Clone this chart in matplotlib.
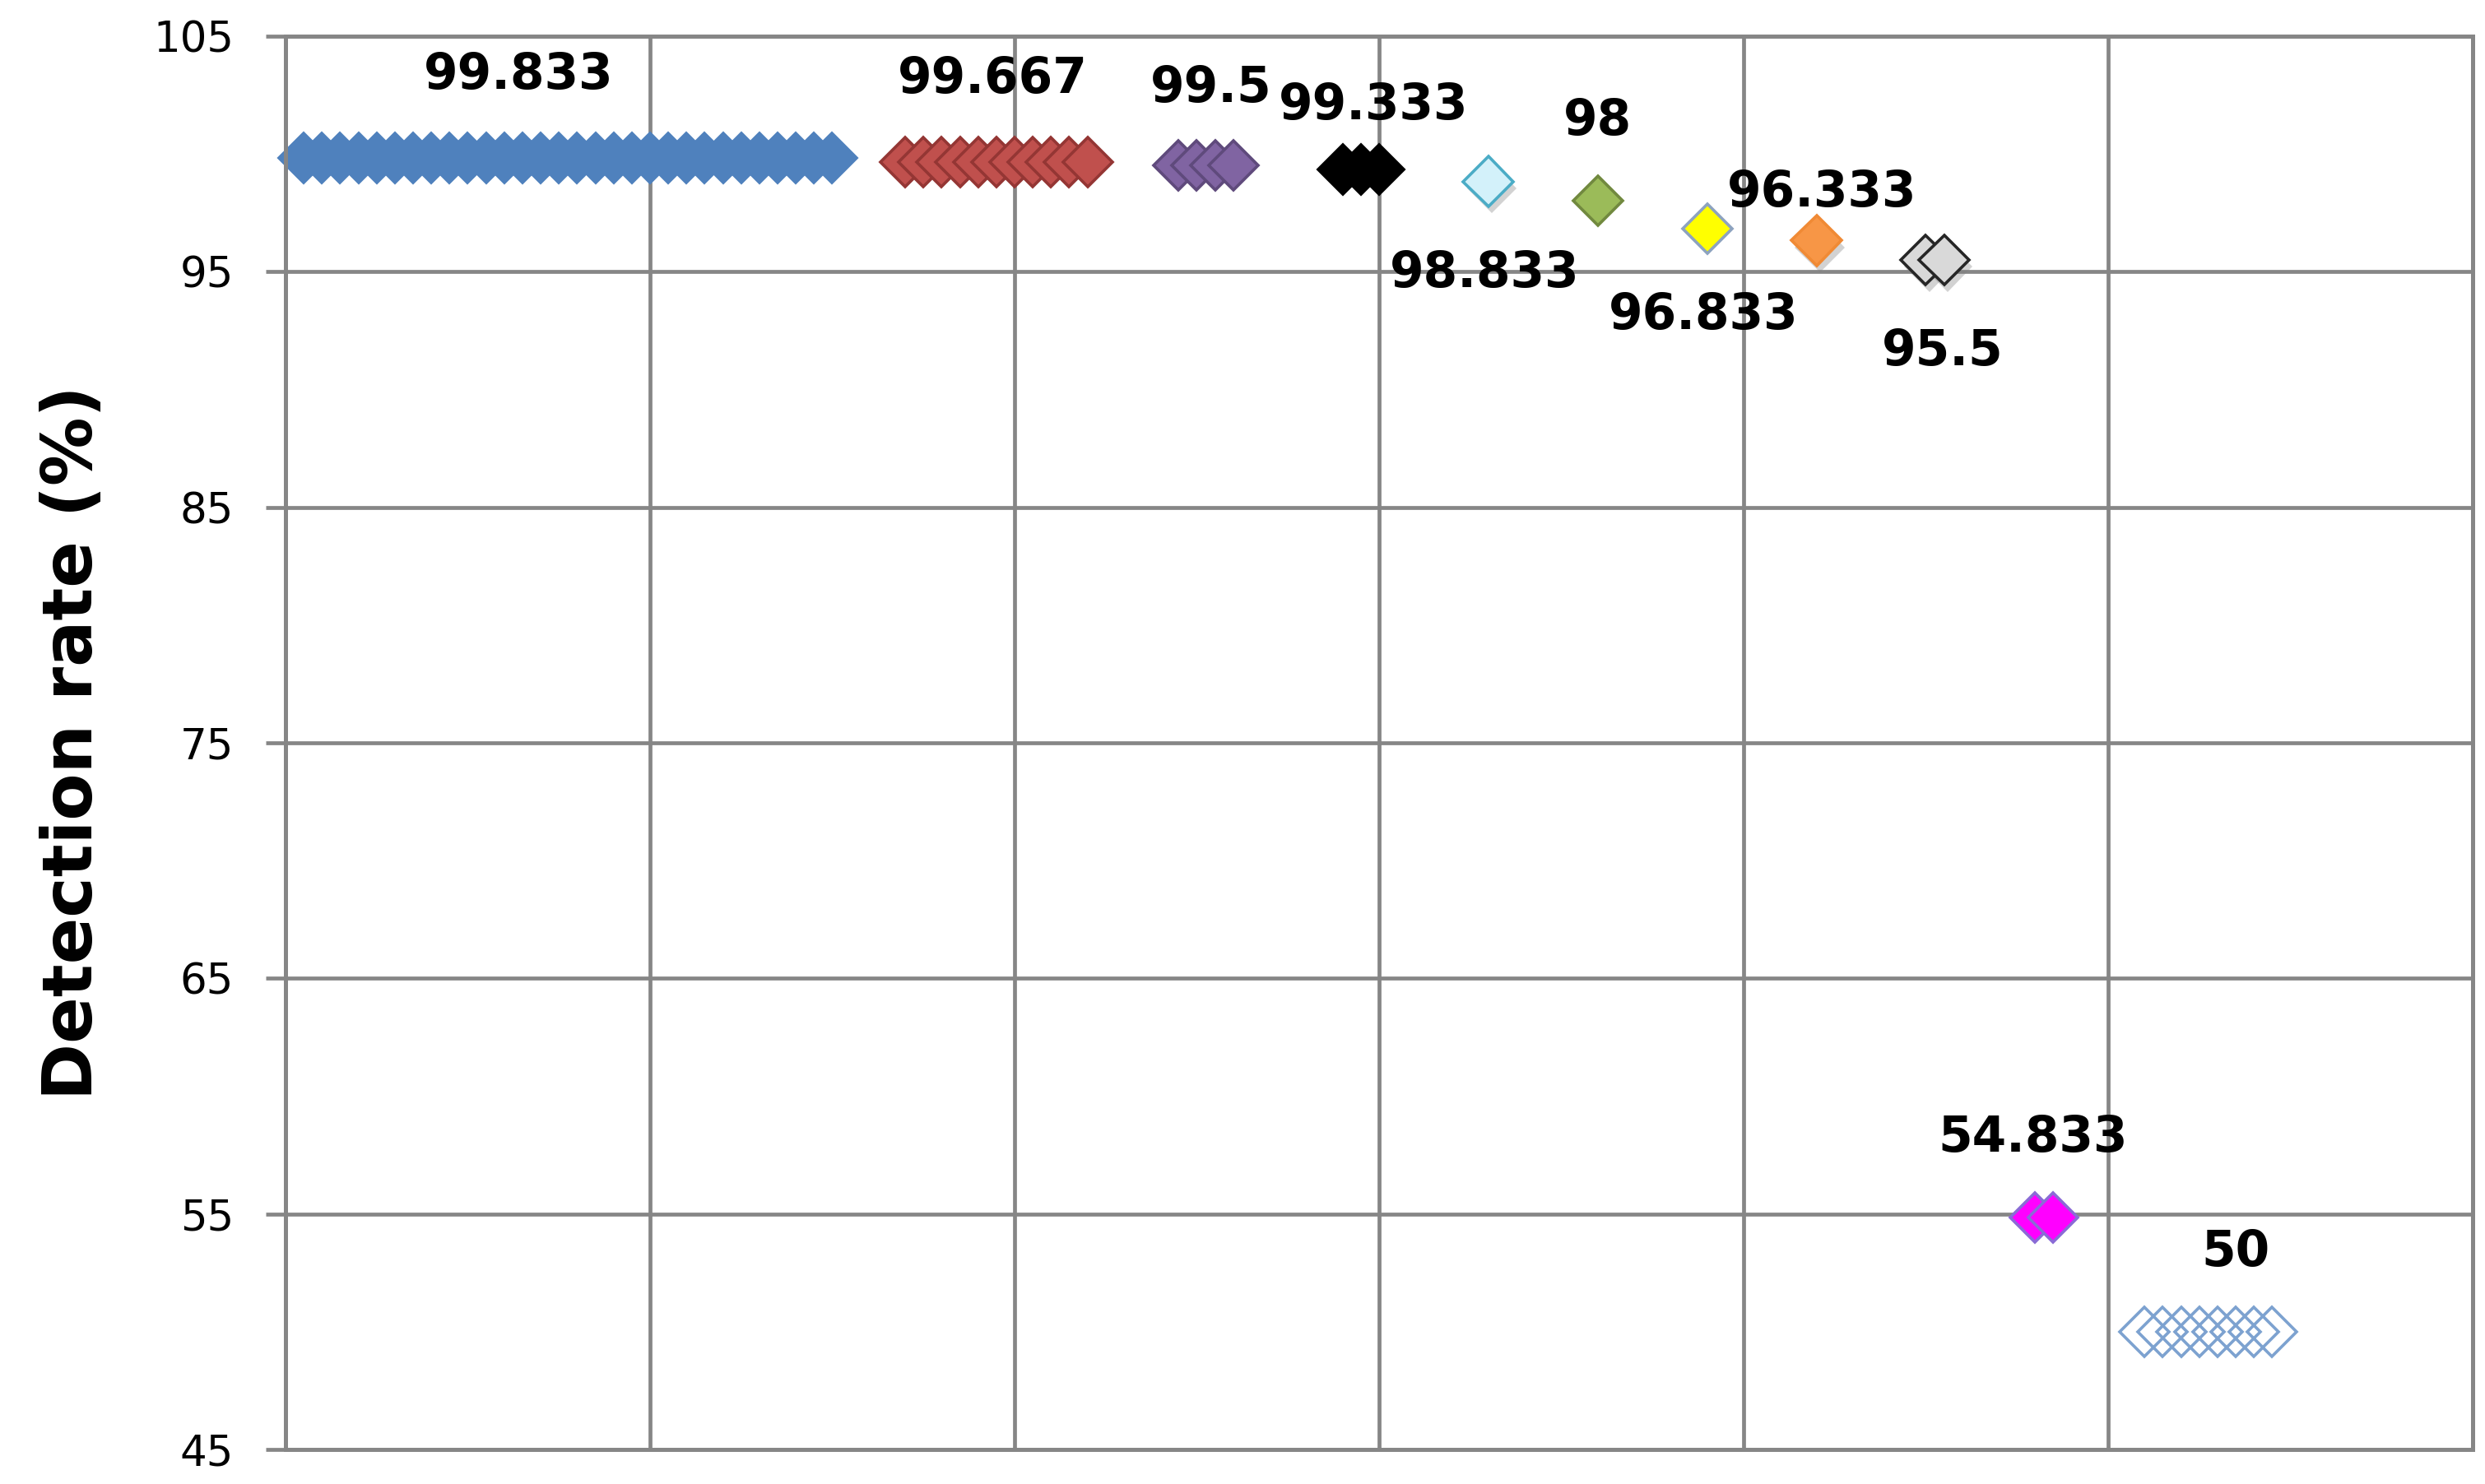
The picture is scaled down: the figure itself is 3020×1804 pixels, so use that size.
import matplotlib
matplotlib.use("Agg")
import matplotlib.pyplot as plt
import matplotlib.patheffects as pe

# x position (run index) of every point, one list per group
blue_x = list(range(1, 31))
red_x = list(range(34, 45))
purple_x = [49, 50, 51, 52]
black_x = [58, 59, 60]
cyan_x = [66]
green_x = [72]
yellow_x = [78]
orange_x = [84]
gray_x = [90, 91]
magenta_x = [96, 97]
lightblue_x = [102, 103, 104, 105, 106, 107, 108, 109]

groups_x = [blue_x, red_x, purple_x, black_x, cyan_x, green_x,
            yellow_x, orange_x, gray_x, magenta_x, lightblue_x]

# detection rate of each group (%)
rates = [99.833, 99.667, 99.5, 99.333, 98.833, 98.0,
         96.833, 96.333, 95.5, 54.833, 50.0]

y_ticks = [45, 55, 65, 75, 85, 95, 105]

# marker styling
face = ["#4F81BD", "#C0504D", "#8064A2", "#000000", "#D3F1FA", "#9BBB59",
        "#FFFF00", "#F79646", "#D9D9D9", "#FF00FF", "none"]
edge = ["#4F81BD", "#943634", "#5F4A7C", "#000000", "#4BACC6", "#71893F",
        "#8DA3BF", "#F08A35", "#262626", "#8A6BD6", "#7DA2D0"]
shadow = [False, False, False, False, True, False, False, True, True, False, False]

# label placement relative to group centre (x in run units, y in %)
label_dx = [-2.7, -0.2, 0.3, 0.7, -0.2, 0.0, -0.2, 0.3, 0.4, -0.6, 1.5]
label_dy = [3.5, 3.5, 3.3, 2.7, -3.9, 3.4, -3.7, 2.0, -3.9, 3.4, 3.35]

grid_col = "#868686"

fig = plt.figure(figsize=(15.1, 9.02), dpi=200)
ax = fig.add_axes([0.1149, 0.0233, 0.995 - 0.1149, 0.9756 - 0.0233])

for xs, r, fc, ec, sh, dx, dy in zip(groups_x, rates, face, edge, shadow,
                                      label_dx, label_dy):
    line, = ax.plot(xs, [r] * len(xs), ls="none", marker="D", ms=15.5,
                    mfc=fc, mec=ec, mew=1.3, clip_on=False, zorder=2)
    if sh:
        line.set_path_effects([
            pe.SimplePatchShadow(offset=(1.5, -3), shadow_rgbFace="#808080",
                                 alpha=0.35),
            pe.Normal()])
    txt = f"{r:.3f}".rstrip("0").rstrip(".")
    cx = sum(xs) / len(xs) + dx
    ax.text(cx, r + dy, txt, ha="center", va="center", fontsize=21.5,
            fontweight="bold", color="black")

ax.set_xlim(0, 120)
ax.set_ylim(45, 105)
ax.set_xticks(range(0, 121, 20))
ax.set_yticks(y_ticks)
ax.set_yticklabels([str(t) for t in y_ticks])
ax.tick_params(axis="x", length=0, labelbottom=False)
ax.tick_params(axis="y", length=8.6, width=1.7, color=grid_col, pad=14,
               labelsize=18.5)

ax.set_axisbelow(True)
ax.grid(True, color=grid_col, lw=1.7)
for s in ax.spines.values():
    s.set_color(grid_col)
    s.set_linewidth(1.8)

fig.text(0.0294, 0.4995, "Detection rate (%)", rotation=90, ha="center",
         va="center", fontsize=30, fontweight="bold")

fig.savefig("out.png", dpi=200)
